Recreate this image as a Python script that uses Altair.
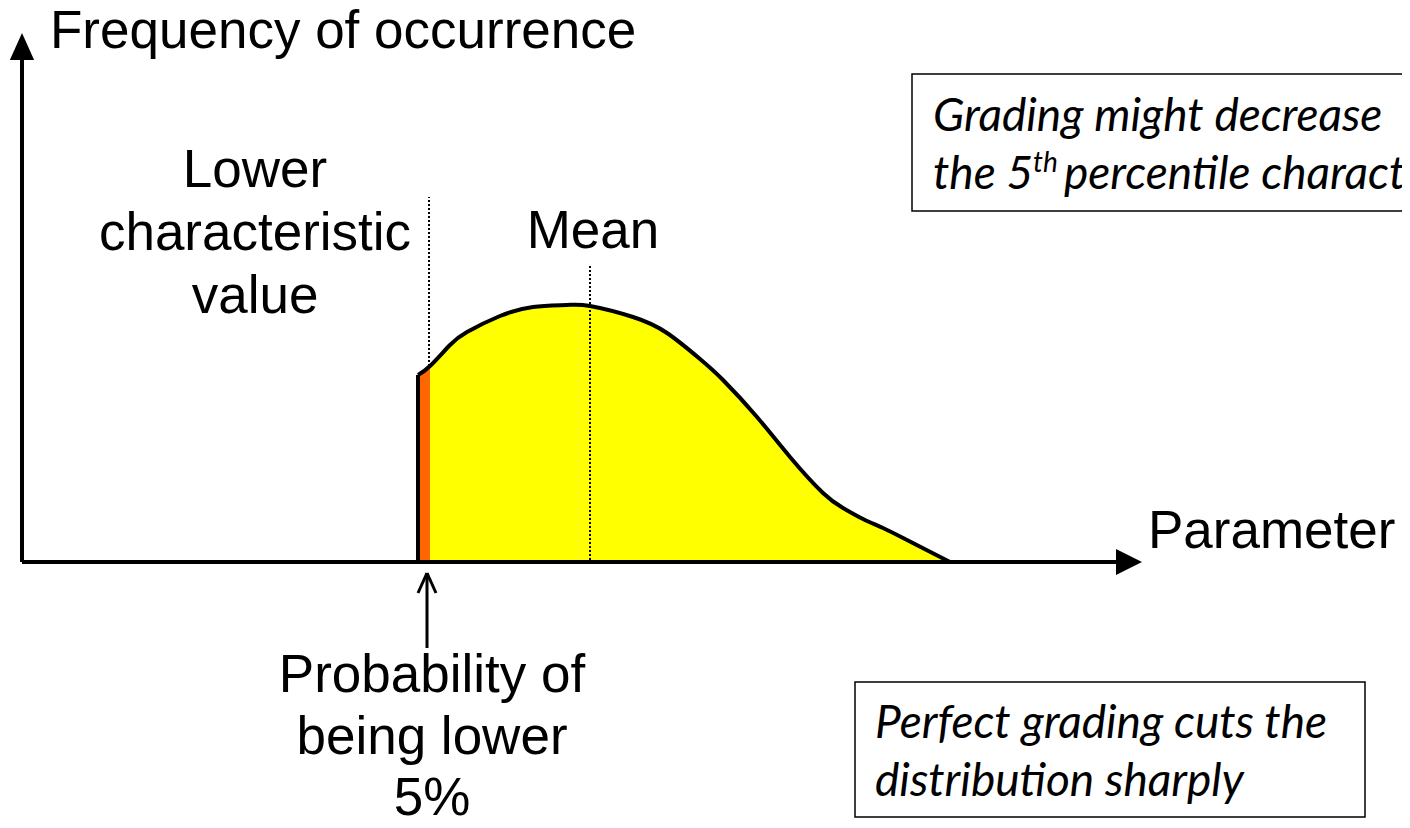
import altair as alt
import pandas as pd

# ---------------- data (parameter units / frequency units) ----------------
# distribution curve (graded: cut sharply at the lower characteristic value)
curve_x = [396, 408, 428, 445, 478, 511, 545, 568, 611, 645, 678, 701, 735, 768, 801, 821, 841, 861, 885, 928]
curve_y = [187, 196, 217, 230, 246, 255, 257, 256, 245, 229, 203, 182, 145, 105, 69, 54, 43, 34, 22, 0]
cut_x = 396          # where grading cuts the distribution
p5_x = 408           # end of the 5 % tail (orange strip)
lower_char_x = 407   # lower characteristic value marker
mean_x = 568         # mean marker

labels_center = ["Lower", "characteristic", "value", "Mean",
                 "Probability of", "being lower", "5%"]
labels_left = ["Frequency of occurrence", "Parameter"]
box1_lines = ["Grading might decrease", "the 5", "th", "percentile characteristic value"]
box2_lines = ["Perfect grading cuts the", "distribution sharply"]

# ---------------- helpers ----------------
XS = alt.Scale(domain=[-14, 1380], nice=False, zero=False)
YS = alt.Scale(domain=[-258, 554], nice=False, zero=False)


def X(f):
    return alt.X(f, type="quantitative", scale=XS, axis=None)


def Y(f):
    return alt.Y(f, type="quantitative", scale=YS, axis=None)


curve = pd.DataFrame({"x": curve_x, "y": curve_y})
tail = curve[curve["x"] <= p5_x]

yellow = alt.Chart(curve).mark_area(color="#FFFF00", interpolate="natural", opacity=1).encode(
    x=X("x"), y=Y("y"), y2=alt.datum(0))
orange = alt.Chart(tail).mark_area(color="#FF6600", interpolate="linear", opacity=1).encode(
    x=X("x"), y=Y("y"), y2=alt.datum(0))
outline = alt.Chart(curve).mark_line(color="black", strokeWidth=4, interpolate="natural").encode(
    x=X("x"), y=Y("y"))

edge = pd.DataFrame({"x": [cut_x], "y": [0], "y2": [curve_y[0]]})
edge_rule = alt.Chart(edge).mark_rule(color="black", strokeWidth=4).encode(
    x=X("x"), y=Y("y"), y2="y2")

# dotted markers
dots = pd.DataFrame({"x": [lower_char_x, mean_x], "y": [196, 2], "y2": [365, 296]})
dot_rule = alt.Chart(dots).mark_rule(color="black", strokeWidth=2, strokeDash=[2, 2]).encode(
    x=X("x"), y=Y("y"), y2="y2")

# axes lines
axes = pd.DataFrame({"x": [0, 0], "x2": [0, 1100], "y": [0, 0], "y2": [512, 0]})
axes_rule = alt.Chart(axes).mark_rule(color="black", strokeWidth=4).encode(
    x=X("x"), x2="x2", y=Y("y"), y2="y2")

up_head = alt.Chart(pd.DataFrame({"x": [0], "y": [515.5]})).mark_point(
    shape="M0,-1L-0.9,1L0.9,1Z", filled=True, color="black", opacity=1, size=729, strokeWidth=0
).encode(x=X("x"), y=Y("y"))
right_head = alt.Chart(pd.DataFrame({"x": [1107], "y": [0]})).mark_point(
    shape="M1,0L-1,-1L-1,1Z", filled=True, color="black", opacity=1, size=676, strokeWidth=0
).encode(x=X("x"), y=Y("y"))

# small pointer arrow under the axis
ptr = pd.DataFrame({"x": [405, 405, 405], "x2": [405, 396, 414],
                    "y": [-86, -11, -11], "y2": [-11, -31, -31]})
ptr_rule = alt.Chart(ptr).mark_rule(color="black", strokeWidth=3).encode(
    x=X("x"), x2="x2", y=Y("y"), y2="y2")

# text
tc = pd.DataFrame({"t": labels_center,
                   "x": [233, 233, 233, 571, 410, 410, 410],
                   "y": [375, 312, 249, 314, -130, -192, -253]})
text_c = alt.Chart(tc).mark_text(font="Liberation Sans", fontSize=53, align="center",
                                 baseline="alphabetic", color="black").encode(
    x=X("x"), y=Y("y"), text="t:N")
tl = pd.DataFrame({"t": labels_left, "x": [28, 1126], "y": [514, 14]})
text_l = alt.Chart(tl).mark_text(font="Liberation Sans", fontSize=53, align="left",
                                 baseline="alphabetic", color="black").encode(
    x=X("x"), y=Y("y"), text="t:N")

# boxes
boxes = pd.DataFrame({"x": [890, 833], "x2": [1430, 1343], "y": [488, -120], "y2": [351, -255]})
box_rect = alt.Chart(boxes).mark_rect(fill="white", stroke="black", strokeWidth=1.5).encode(
    x=X("x"), x2="x2", y=Y("y"), y2="y2")

ti = pd.DataFrame({"t": [box1_lines[0], box1_lines[1], box1_lines[3], box2_lines[0], box2_lines[1]],
                   "x": [911, 911, 1042, 853, 853],
                   "y": [431, 373, 373, -176, -234]})
text_i = alt.Chart(ti).mark_text(font="Lato", fontStyle="italic", fontSize=46, align="left",
                                 baseline="alphabetic", color="black").encode(
    x=X("x"), y=Y("y"), text="t:N")
ts = pd.DataFrame({"t": [box1_lines[2]], "x": [1011], "y": [390]})
text_s = alt.Chart(ts).mark_text(font="Lato", fontStyle="italic", fontSize=28, align="left",
                                 baseline="alphabetic", color="black").encode(
    x=X("x"), y=Y("y"), text="t:N")

chart = alt.layer(
    yellow, orange, outline, edge_rule, dot_rule, axes_rule, up_head, right_head, ptr_rule,
    box_rect, text_c, text_l, text_i, text_s
).properties(
    width=1394, height=812, padding=0,
    autosize=alt.AutoSizeParams(type="none"),
    background="white",
).configure_view(stroke=None)

chart.save("out.html", embed_options={"renderer": "svg", "actions": False})
